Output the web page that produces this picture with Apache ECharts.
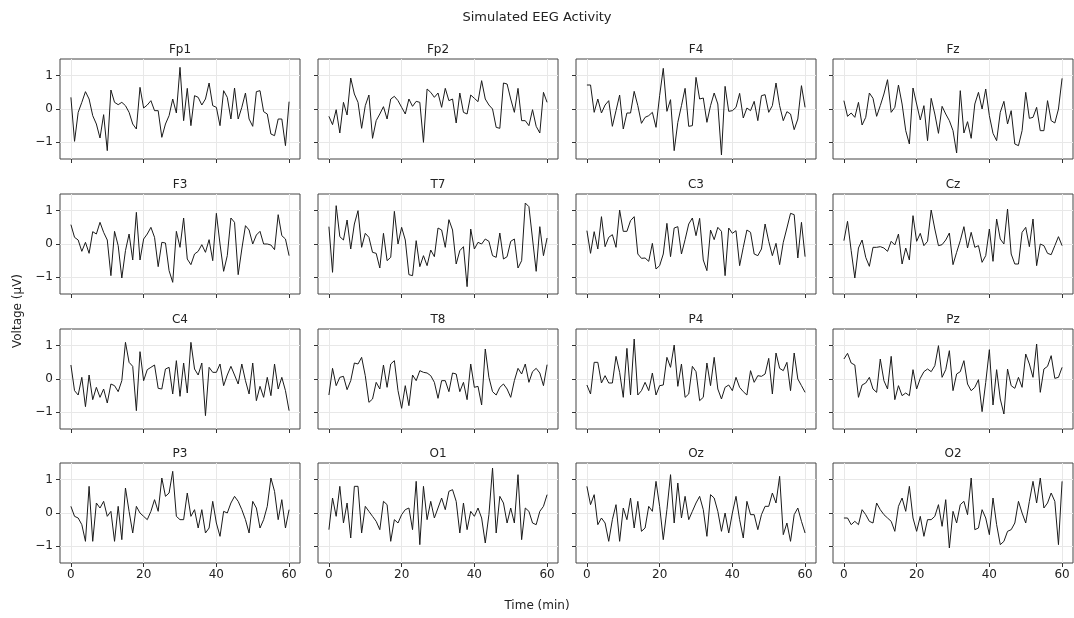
<!DOCTYPE html>
<html>
<head>
<meta charset="utf-8">
<script src="https://cdn.jsdelivr.net/npm/echarts@6/dist/echarts.min.js"></script>
<style>
html, body { margin: 0; padding: 0; background: #fff; }
#main { width: 1074px; height: 618px; }
</style>
</head>
<body>
<div id="main"></div>
<script>
// EEG 通道名 (4x4)
var channels = ['Fp1', 'Fp2', 'F4', 'Fz', 'F3', 'T7', 'C3', 'Cz', 'C4', 'T8', 'P4', 'Pz', 'P3', 'O1', 'Oz', 'O2'];
var minutes = Array.from({length: 61}, function (_, i) { return i; });
var xTicks = [0, 20, 40, 60];
var yTicks = [-1, 0, 1];

var fp1 = [0.35,-0.97,-0.1,0.2,0.52,0.3,-0.2,-0.45,-0.87,-0.17,-1.25,0.57,0.2,0.13,0.2,0.1,-0.1,-0.45,-0.6,0.65,0.03,0.12,0.25,-0.05,-0.05,-0.85,-0.45,-0.2,0.3,-0.12,1.25,-0.35,0.62,-0.5,0.4,0.35,0.12,0.3,0.78,0.1,0.05,-0.5,0.55,0.35,-0.3,0.63,-0.3,0.05,0.48,-0.3,-0.52,0.52,0.55,-0.08,-0.15,-0.75,-0.8,-0.3,-0.3,-1.1,0.22];
var fp2 = [-0.22,-0.47,-0.02,-0.72,0.2,-0.18,0.93,0.45,0.2,-0.58,0.1,0.42,-0.88,-0.35,-0.15,0.07,-0.3,0.3,0.38,0.25,0.05,-0.15,0.3,0.08,0.23,0.2,-1.0,0.6,0.5,0.35,0.48,0.05,0.62,0.25,0.3,-0.42,0.48,-0.1,-0.15,0.42,0.32,0.22,0.85,0.3,0.12,0.0,-0.55,-0.58,0.78,0.75,0.3,-0.1,0.62,-0.35,-0.35,-0.5,-0.02,-0.52,-0.72,0.5,0.2];
var f4 = [0.72,0.72,-0.1,0.3,-0.12,0.12,0.25,-0.52,-0.05,0.42,-0.6,-0.12,-0.12,0.53,0.1,-0.43,-0.25,-0.2,-0.1,-0.55,0.4,1.22,-0.07,0.28,-1.25,-0.4,0.1,0.62,-0.52,-0.5,0.95,0.3,0.33,-0.4,0.1,0.48,0.15,-1.38,0.68,-0.07,-0.05,0.05,0.47,-0.27,0.03,-0.05,0.23,-0.35,0.4,0.43,-0.1,0.1,0.78,0.1,-0.35,-0.08,-0.15,-0.62,-0.3,0.7,0.05];
var fz = [0.25,-0.22,-0.12,-0.25,0.2,-0.48,-0.25,0.48,0.32,-0.22,0.1,0.45,0.88,-0.1,0.05,0.72,0.15,-0.65,-1.05,0.63,0.15,-0.33,0.1,-0.95,0.32,-0.15,-0.73,0.08,-0.15,-0.35,-0.65,-1.32,0.55,-0.72,-0.38,-0.88,0.15,0.5,0.0,0.6,-0.2,-0.73,-0.95,-0.1,0.23,-0.45,-0.05,-1.05,-1.1,-0.65,0.5,-0.28,-0.25,0.05,-0.65,-0.65,0.25,-0.35,-0.42,0.0,0.92];
var f3 = [0.58,0.2,0.12,-0.22,0.05,-0.28,0.37,0.3,0.65,0.35,0.12,-0.95,0.38,-0.05,-1.02,-0.2,0.3,-0.48,0.95,-0.48,0.15,0.3,0.5,0.2,-0.68,0.05,0.03,-0.8,-1.15,0.38,-0.1,0.78,-0.45,-0.62,-0.3,-0.22,-0.02,-0.25,0.13,-0.5,0.92,0.0,-0.82,-0.35,0.78,0.65,-0.92,-0.15,0.55,0.42,0.0,0.27,0.38,0.0,0.0,-0.03,-0.17,0.88,0.25,0.15,-0.35];
var t7 = [0.52,-0.85,1.15,0.22,0.12,0.72,-0.15,0.6,1.0,-0.1,0.32,0.2,-0.25,-0.28,-0.72,0.32,-0.5,-0.4,0.98,0.0,0.5,0.12,-0.92,-0.95,0.1,-0.68,-0.35,-0.65,-0.18,-0.38,0.48,0.42,-0.1,0.73,0.42,-0.6,-0.2,-0.08,-1.28,0.45,-0.15,0.05,0.0,0.15,0.08,-0.35,-0.4,0.33,-0.45,-0.38,0.08,0.15,-0.72,-0.5,1.23,1.12,0.15,-0.82,0.52,-0.35,0.18];
var c3 = [0.4,-0.28,0.37,-0.15,0.82,-0.08,0.2,0.28,-0.1,1.02,0.38,0.38,0.7,0.82,-0.3,-0.43,-0.42,-0.52,0.02,-0.75,-0.65,-0.3,0.62,-0.38,0.48,0.52,-0.3,0.13,0.6,0.78,0.25,0.77,-0.48,-0.8,0.42,0.13,0.5,0.38,-0.95,0.48,0.32,0.4,-0.65,-0.1,0.42,0.35,-0.3,-0.35,-0.15,0.6,0.08,-0.35,0.02,-0.62,0.05,0.48,0.92,0.88,-0.42,0.65,-0.38];
var cz = [0.1,0.68,-0.2,-1.02,-0.12,0.12,-0.4,-0.67,-0.1,-0.1,-0.08,-0.12,-0.22,0.08,-0.03,0.3,-0.6,-0.12,-0.48,0.85,0.08,0.32,-0.05,0.08,1.02,0.45,-0.05,-0.02,0.12,0.33,-0.62,-0.25,0.1,0.52,-0.12,0.35,-0.1,-0.05,-0.55,-0.35,0.45,-0.52,0.75,0.15,0.0,1.05,-0.3,-0.6,-0.6,0.35,0.5,-0.08,0.75,-0.65,0.0,-0.05,-0.28,-0.32,-0.05,0.22,-0.05];
var c4 = [0.42,-0.35,-0.48,0.05,-0.83,0.12,-0.62,-0.25,-0.55,-0.3,-0.72,-0.15,-0.2,-0.38,-0.05,1.1,0.5,0.38,-0.95,0.82,-0.05,0.28,0.35,0.42,-0.28,-0.3,0.3,0.35,-0.45,0.55,-0.52,0.48,-0.42,1.1,0.3,0.12,0.48,-1.1,0.35,0.2,0.2,0.45,-0.2,0.12,0.38,0.12,-0.15,0.45,-0.05,-0.45,0.48,-0.65,-0.22,-0.55,0.05,-0.5,0.45,-0.3,0.05,-0.35,-0.95];
var t8 = [-0.48,0.32,-0.2,0.05,0.08,-0.32,-0.05,0.48,0.45,0.65,0.1,-0.7,-0.6,-0.1,-0.3,0.42,-0.25,0.45,0.55,-0.35,-0.88,-0.2,-0.8,0.12,-0.05,0.25,0.2,0.18,0.1,-0.1,-0.58,-0.05,-0.05,-0.38,0.18,0.15,-0.38,-0.1,-0.62,0.45,-0.25,-0.22,-0.78,0.9,0.05,-0.38,-0.48,-0.25,-0.15,-0.3,-0.55,-0.05,0.32,0.15,0.45,-0.1,0.22,0.32,0.18,-0.2,0.43];
var p4 = [-0.18,-0.45,0.5,0.5,-0.12,0.1,-0.12,-0.12,0.68,0.2,-0.55,0.92,-0.48,1.2,-0.48,-0.35,-0.1,-0.35,0.18,-0.48,-0.2,-0.18,0.65,0.35,1.02,-0.22,0.45,-0.55,-0.45,0.38,0.22,-0.65,-0.55,0.48,-0.2,0.65,-0.3,-0.6,-0.25,-0.18,-0.35,0.05,-0.25,-0.38,-0.48,0.25,-0.1,0.1,0.08,0.15,0.62,-0.45,0.78,0.32,0.25,0.5,-0.35,0.78,0.0,-0.2,-0.4];
var pz = [0.6,0.77,0.48,0.42,-0.55,-0.18,-0.12,0.05,-0.3,-0.4,0.6,-0.05,-0.3,0.68,-0.62,-0.2,-0.5,-0.42,-0.5,0.28,-0.3,0.02,0.22,0.3,0.22,0.4,1.0,0.05,0.28,0.85,-0.35,0.15,0.22,0.55,-0.15,-0.35,-0.25,-0.02,-0.98,-0.1,0.88,-0.78,0.28,-0.6,-1.05,0.3,-0.2,-0.28,0.05,-0.25,0.75,0.45,0.05,1.05,-0.4,0.3,0.38,0.7,0.02,0.05,0.35];
var p3 = [0.2,-0.1,-0.15,-0.35,-0.85,0.8,-0.85,0.3,0.15,0.35,-0.1,0.05,-0.85,0.2,-0.8,0.75,0.05,-0.6,0.2,0.0,-0.1,-0.2,0.05,0.4,0.05,1.05,0.5,0.6,1.25,-0.1,-0.2,-0.2,0.6,-0.1,0.1,-0.45,0.1,-0.6,-0.45,0.35,-0.3,-0.7,0.05,0.0,0.3,0.5,0.35,0.1,-0.2,-0.6,0.35,0.15,-0.45,-0.2,0.2,1.05,0.65,-0.2,0.4,-0.45,0.1];
var o1 = [-0.5,0.45,-0.1,0.8,-0.3,0.3,-0.75,0.8,0.8,-0.6,0.2,0.05,-0.1,-0.25,-0.5,0.35,0.25,-0.85,-0.2,-0.3,-0.05,0.1,0.15,-0.5,0.95,-0.95,0.8,-0.2,0.35,-0.15,0.15,0.45,0.1,0.65,0.7,0.35,-0.6,0.3,-0.5,0.05,-0.1,0.15,-0.15,-0.9,-0.05,1.35,-0.6,0.5,0.3,-0.3,0.15,-0.3,1.15,-0.8,0.15,0.05,-0.3,-0.35,0.05,0.2,0.55];
var oz = [0.8,0.25,0.55,-0.35,-0.15,-0.3,-0.85,-0.2,0.25,-0.85,0.15,-0.2,0.45,-0.45,0.35,-0.55,-0.45,0.2,0.05,0.95,0.2,-0.8,0.1,1.15,-0.3,0.9,-0.15,0.5,-0.2,0.05,0.3,0.5,0.1,-0.7,0.55,0.45,0.05,-0.55,0.0,-0.6,0.0,0.5,-0.2,-0.75,0.35,-0.05,-0.05,-0.5,-0.05,0.2,0.2,0.6,0.3,1.1,-0.65,-0.3,-0.85,-0.05,0.15,-0.25,-0.6];
var o2 = [-0.15,-0.15,-0.35,-0.25,-0.35,0.1,-0.05,-0.25,-0.3,0.3,0.1,-0.05,-0.15,-0.25,-0.55,0.2,0.45,0.05,0.8,-0.15,-0.55,-0.1,-0.7,-0.2,-0.2,-0.1,0.25,-0.4,0.4,-1.05,0.05,-0.3,0.25,0.35,-0.05,1.05,-0.5,-0.45,0.1,-0.15,-0.65,0.45,-0.35,-0.95,-0.85,-0.55,-0.5,-0.3,0.35,0.0,-0.3,0.35,0.95,0.3,1.05,0.15,0.3,0.6,0.35,-0.95,0.95];

var signals = [fp1, fp2, f4, fz, f3, t7, c3, cz, c4, t8, p4, pz, p3, o1, oz, o2];

var myChart = echarts.init(document.getElementById('main'));
var FONT = 'DejaVu Sans';
var lefts = [60, 318, 576, 833];
var tops = [59, 194, 329, 463];
var W = 240, H = 100;

var grids = [], xAxes = [], yAxes = [], series = [], texts = [];
channels.forEach(function (name, k) {
    var r = Math.floor(k / 4), c = k % 4;
    grids.push({
        left: lefts[c], top: tops[r], width: W, height: H,
        show: true, borderColor: '#444', borderWidth: 1, backgroundColor: 'transparent'
    });
    xAxes.push({
        type: 'value', gridIndex: k, min: -3, max: 63, position: 'bottom',
        axisLine: {show: false, onZero: false},
        axisTick: {show: true, inside: false, length: 4, customValues: xTicks, lineStyle: {color: '#333'}},
        axisLabel: {show: r === 3, customValues: xTicks, margin: 6, fontSize: 12, color: '#222', fontFamily: FONT},
        splitLine: {show: true, lineStyle: {color: '#e8e8e8', width: 1}}
    });
    yAxes.push({
        type: 'value', gridIndex: k, min: -1.5, max: 1.5, position: 'left',
        axisLine: {show: false, onZero: false},
        axisTick: {show: true, inside: false, length: 4, customValues: yTicks, lineStyle: {color: '#333'}},
        axisLabel: {
            show: c === 0, customValues: yTicks, margin: 7, fontSize: 12, color: '#222', fontFamily: FONT,
            formatter: function (v) { return String(v).replace('-', '\u2212'); }
        },
        splitLine: {show: true, lineStyle: {color: '#e8e8e8', width: 1}}
    });
    series.push({
        name: name, type: 'line', xAxisIndex: k, yAxisIndex: k,
        data: minutes.map(function (t, i) { return [t, signals[k][i]]; }),
        symbol: 'none', silent: true, animation: false,
        lineStyle: {color: '#1a1a1a', width: 1}
    });
    texts.push({
        type: 'text', x: lefts[c] + W / 2, y: tops[r] - 9,
        style: {text: name, align: 'center', verticalAlign: 'middle', fontSize: 12, fill: '#222', fontFamily: FONT}
    });
});

texts.push({
    type: 'text', x: 537, y: 18,
    style: {text: 'Simulated EEG Activity', align: 'center', verticalAlign: 'middle', fontSize: 13, fill: '#222', fontFamily: FONT}
});
texts.push({
    type: 'text', x: 537, y: 606,
    style: {text: 'Time (min)', align: 'center', verticalAlign: 'middle', fontSize: 12, fill: '#222', fontFamily: FONT}
});
texts.push({
    type: 'text', x: 18, y: 311, rotation: Math.PI / 2,
    style: {text: 'Voltage (μV)', align: 'center', verticalAlign: 'middle', fontSize: 12, fill: '#222', fontFamily: FONT}
});

option = {
    animation: false,
    grid: grids,
    xAxis: xAxes,
    yAxis: yAxes,
    series: series,
    graphic: texts
};

myChart.setOption(option);
</script>
</body>
</html>
